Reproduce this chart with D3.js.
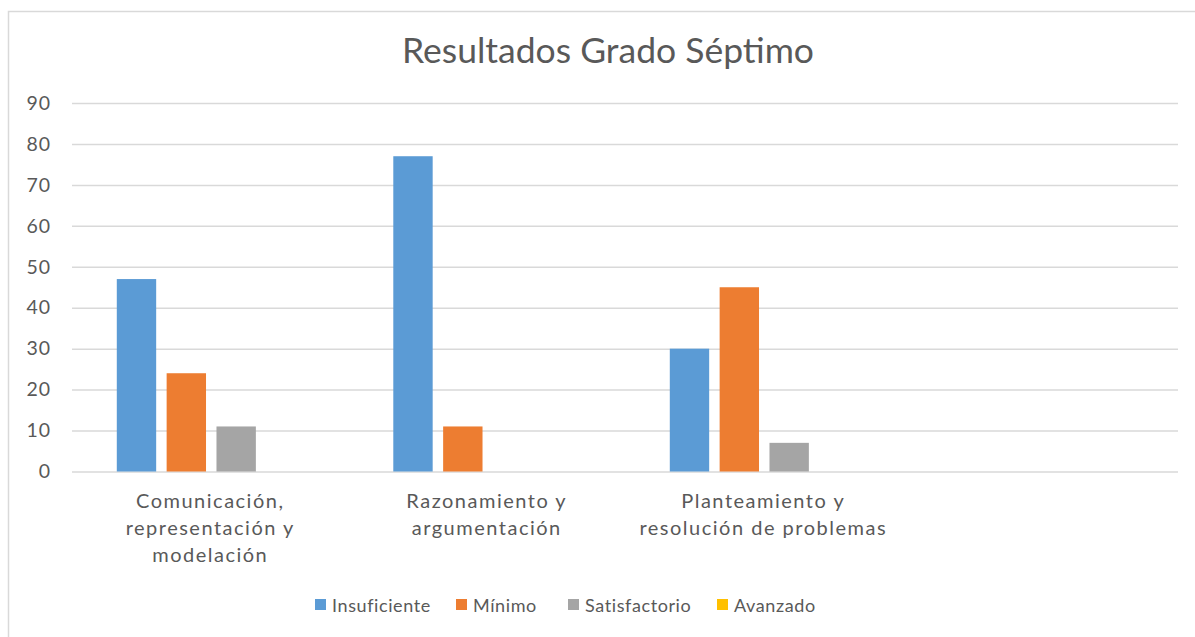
<!DOCTYPE html>
<html>
<head>
<meta charset="utf-8">
<script src="https://cdn.jsdelivr.net/npm/d3@7"></script>
<style>
  html, body { margin: 0; padding: 0; background: #fff; }
  svg { display: block; }
  text { font-family: Lato, "Open Sans", sans-serif; fill: #595959; }
</style>
</head>
<body>
<svg id="chart" width="1195" height="637"></svg>
<script>
// Chart data
const title = "Resultados Grado Séptimo";
const categories = [
  ["Comunicación,", "representación y", "modelación"],
  ["Razonamiento y", "argumentación"],
  ["Planteamiento y", "resolución de problemas"],
  [""]
];
const seriesNames = ["Insuficiente", "Mínimo", "Satisfactorio", "Avanzado"];
const seriesColors = ["#5B9BD5", "#ED7D31", "#A5A5A5", "#FFC000"];
const insuficiente = [47, 77, 30, null];
const minimo = [24, 11, 45, null];
const satisfactorio = [11, 0, 7, null];
const avanzado = [0, 0, 0, null];
const yTicks = [0, 10, 20, 30, 40, 50, 60, 70, 80, 90];

const seriesValues = [insuficiente, minimo, satisfactorio, avanzado];

const svg = d3.select("#chart");

// chart frame
svg.append("rect")
  .attr("x", 8.5).attr("y", 11.5)
  .attr("width", 1300).attr("height", 800)
  .attr("fill", "#fff").attr("stroke", "#D9D9D9").attr("stroke-width", 1.5);

const plot = { left: 72, right: 1178, top: 103, bottom: 471.5 };

const y = d3.scaleLinear().domain([0, 90]).range([plot.bottom, plot.top]);
const catIdx = categories.map((d, i) => i);
const x0 = d3.scaleBand().domain(catIdx).range([plot.left, plot.right]).padding(0);
const gapHalf = x0.bandwidth() * 0.162;
const x1 = d3.scaleBand().domain(d3.range(seriesNames.length))
  .range([gapHalf, x0.bandwidth() - gapHalf + 2])
  .paddingInner(0.21).paddingOuter(0);

// title
svg.append("text")
  .attr("x", 608).attr("y", 63)
  .attr("text-anchor", "middle")
  .style("font-size", "35.5px")
  .text(title);

// gridlines + y tick labels via axis
const yAxis = d3.axisLeft(y).tickValues(yTicks).tickSize(-(plot.right - plot.left)).tickPadding(21);
const gy = svg.append("g").attr("transform", `translate(${plot.left},0)`).call(yAxis);
gy.select(".domain").remove();
gy.selectAll(".tick line").attr("stroke", "#D9D9D9").attr("stroke-width", 1.5);
gy.selectAll(".tick text")
  .attr("fill", "#595959")
  .style("font-size", "19.5px")
  .style("letter-spacing", "1px")
  .style("font-family", "Lato, 'Open Sans', sans-serif");

// bars
const groups = svg.append("g").selectAll("g")
  .data(catIdx)
  .join("g")
  .attr("transform", i => `translate(${x0(i)},0)`);

groups.selectAll("rect")
  .data(i => seriesValues.map((vals, s) => ({ s, v: vals[i] })).filter(d => d.v != null && d.v > 0))
  .join("rect")
  .attr("x", d => x1(d.s))
  .attr("y", d => y(d.v))
  .attr("width", x1.bandwidth())
  .attr("height", d => y(0) - y(d.v))
  .attr("fill", d => seriesColors[d.s]);

// category labels
groups.append("text")
  .attr("text-anchor", "middle")
  .style("font-size", "20px")
  .style("letter-spacing", "1.5px")
  .selectAll("tspan")
  .data(i => categories[i])
  .join("tspan")
  .attr("x", x0.bandwidth() / 2)
  .attr("y", (d, k) => 508 + k * 27)
  .text(d => d);

// legend
const legendX = [315, 456, 568, 717];
const legend = svg.append("g").selectAll("g")
  .data(seriesNames)
  .join("g")
  .attr("transform", (d, i) => `translate(${legendX[i]},605)`);
legend.append("rect")
  .attr("x", 0).attr("y", -6)
  .attr("width", 11).attr("height", 11)
  .attr("fill", (d, i) => seriesColors[i]);
legend.append("text")
  .attr("x", 17).attr("y", 6.5)
  .style("font-size", "18px")
  .style("letter-spacing", "0.6px")
  .text(d => d);
</script>
</body>
</html>
